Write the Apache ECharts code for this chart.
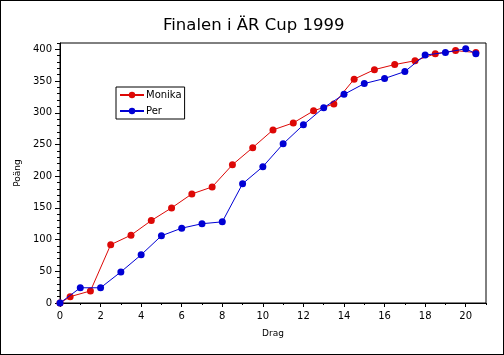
<!DOCTYPE html>
<html>
<head>
<meta charset="utf-8">
<script src="https://cdn.jsdelivr.net/npm/echarts@6/dist/echarts.min.js"></script>
<style>
html,body{margin:0;padding:0;background:#fff;}
#wrap{position:relative;width:504px;height:355px;}
#chart{position:absolute;left:0;top:0;width:504px;height:355px;}
#frame{position:absolute;left:0;top:0;width:504px;height:355px;box-sizing:border-box;border:1px solid #000;pointer-events:none;}
</style>
</head>
<body>
<div id="wrap"><div id="chart"></div><div id="frame"></div></div>
<script>
const titleText = 'Finalen i ÄR Cup 1999';
const xName = 'Drag';
const yName = 'Poäng';
const seriesNames = ['Monika', 'Per'];
const monikaX = [0, 0.5, 1.5, 2.5, 3.5, 4.5, 5.5, 6.5, 7.5, 8.5, 9.5, 10.5, 11.5, 12.5, 13.5, 14.5, 15.5, 16.5, 17.5, 18.5, 19.5, 20.5];
const monikaY = [0, 10, 19, 92, 107, 130, 150, 172, 183, 218, 245, 273, 284, 303, 314, 353, 368, 376, 382, 393, 398, 395];
const perX = [0, 1, 2, 3, 4, 5, 6, 7, 8, 9, 10, 11, 12, 13, 14, 15, 16, 17, 18, 19, 20, 20.5];
const perY = [0, 24, 24, 49, 76, 106, 118, 125, 128, 188, 215, 251, 281, 308, 329, 346, 354, 365, 391, 395, 401, 393];
const xTicks = [0, 2, 4, 6, 8, 10, 12, 14, 16, 18, 20];
const yTicks = [0, 50, 100, 150, 200, 250, 300, 350, 400];

const colors = ['#DD0806', '#0000D4'];
const font = 'DejaVu Sans';

const chart = echarts.init(document.getElementById('chart'), null, {renderer: 'canvas'});
const zip = (xs, ys) => xs.map((x, i) => [x, ys[i]]);

chart.setOption({
  animation: false,
  backgroundColor: '#fff',
  title: {
    text: titleText,
    left: 163,
    top: 17,
    padding: 0,
    textStyle: {fontFamily: font, fontSize: 16.5, fontWeight: 'normal', color: '#000'}
  },
  legend: {
    data: seriesNames,
    orient: 'vertical',
    left: 116,
    top: 87,
    itemWidth: 24,
    itemHeight: 8,
    itemGap: 6,
    padding: [3, 3, 3, 3],
    borderColor: '#000',
    borderWidth: 1,
    backgroundColor: '#fff',
    textStyle: {fontFamily: font, fontSize: 10, color: '#000', padding: [0, 0, 0, -3]}
  },
  grid: {
    left: 60, top: 43, width: 426, height: 260,
    show: true, borderColor: '#000', borderWidth: 1, backgroundColor: '#fff',
    containLabel: false
  },
  xAxis: [
    {
      type: 'value', min: 0, max: 21, interval: 1, position: 'bottom',
      axisLine: {show: true, lineStyle: {color: '#000', width: 1}},
      axisTick: {show: true, length: 2, lineStyle: {color: '#000'}},
      axisLabel: {show: false},
      splitLine: {show: false}
    },
    {
      type: 'value', min: 0, max: 21, interval: 2, position: 'bottom',
      axisLine: {show: false},
      axisTick: {show: true, length: 4, customValues: xTicks, lineStyle: {color: '#000'}},
      axisLabel: {show: true, customValues: xTicks, margin: 8, fontFamily: font, fontSize: 10, color: '#000'},
      splitLine: {show: false},
      name: xName, nameLocation: 'middle', nameGap: 26,
      nameTextStyle: {fontFamily: font, fontSize: 9, color: '#000'}
    }
  ],
  yAxis: [
    {
      type: 'value', min: 0, max: 410, interval: 10, position: 'left',
      axisLine: {show: true, lineStyle: {color: '#000', width: 1}},
      axisTick: {show: true, length: 3, lineStyle: {color: '#000'}},
      axisLabel: {show: false},
      splitLine: {show: false}
    },
    {
      type: 'value', min: 0, max: 410, interval: 50, position: 'left',
      axisLine: {show: false},
      axisTick: {show: true, length: 5, customValues: yTicks, lineStyle: {color: '#000'}},
      axisLabel: {show: true, customValues: yTicks, margin: 8, fontFamily: font, fontSize: 10, color: '#000'},
      splitLine: {show: false},
      name: yName, nameLocation: 'middle', nameGap: 31, nameRotate: 90,
      nameTextStyle: {fontFamily: font, fontSize: 9, color: '#000'}
    }
  ],
  series: [
    {
      name: seriesNames[0], type: 'line', xAxisIndex: 0, yAxisIndex: 0,
      data: zip(monikaX, monikaY),
      symbol: 'circle', symbolSize: 7, showAllSymbol: true,
      lineStyle: {color: colors[0], width: 1},
      itemStyle: {color: colors[0]},
      clip: false, z: 2
    },
    {
      name: seriesNames[1], type: 'line', xAxisIndex: 0, yAxisIndex: 0,
      data: zip(perX, perY),
      symbol: 'circle', symbolSize: 7, showAllSymbol: true,
      lineStyle: {color: colors[1], width: 1},
      itemStyle: {color: colors[1]},
      clip: false, z: 3
    }
  ]
});
</script>
</body>
</html>
